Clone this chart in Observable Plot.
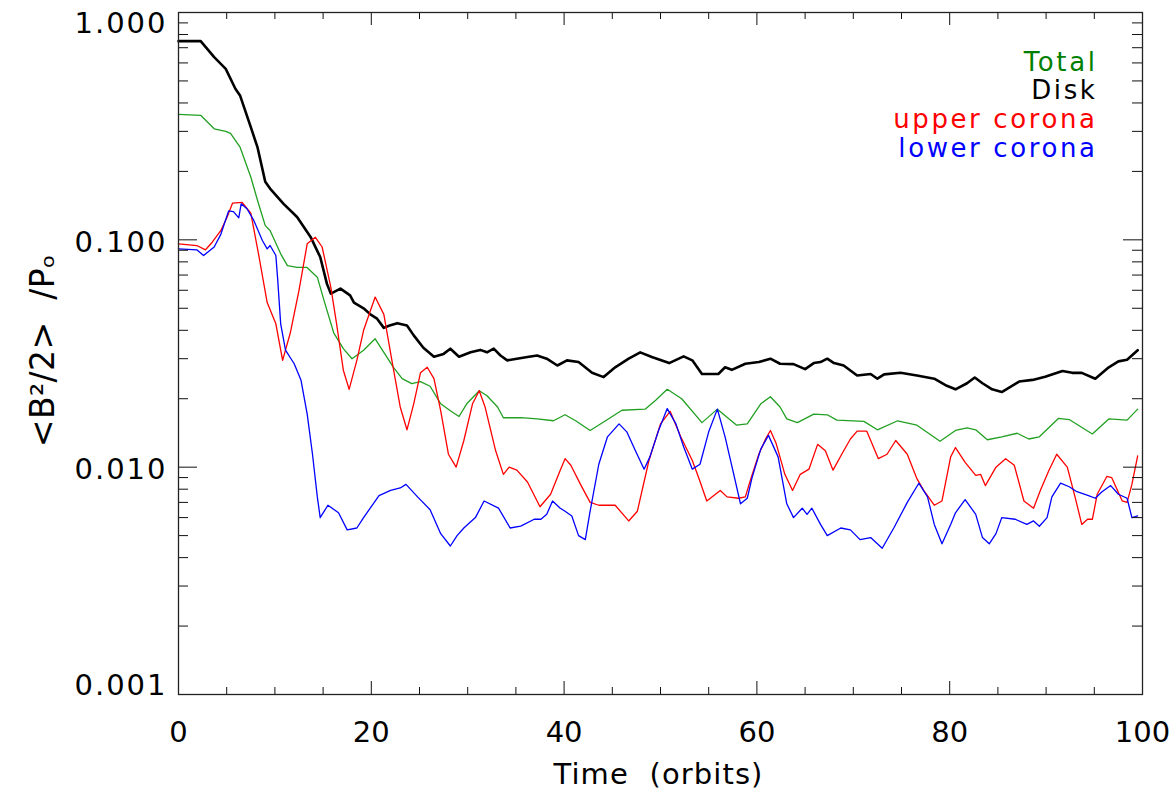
<!DOCTYPE html>
<html><head><meta charset="utf-8">
<script src="https://cdn.jsdelivr.net/npm/d3@7"></script>
<script src="https://cdn.jsdelivr.net/npm/@observablehq/plot@0.6"></script>
<style>
html,body{margin:0;padding:0;background:#fff;}
svg{display:block}
</style>
</head><body><div id="chart"></div><script>
// ---- data: [time (orbits), <B^2/2>/P0] ----
const total = [[0,0.356],[2.3,0.353],[3.7,0.308],[4.9,0.300],[5.4,0.294],[6.4,0.255],[7.5,0.189],[8.2,0.149],[9.0,0.1155],[9.5,0.110],[10.6,0.0868],[11.3,0.077],[12.3,0.0757],[13.3,0.0757],[14.4,0.0685],[15.1,0.054],[16.1,0.039],[17.1,0.0332],[18.0,0.030],[19.2,0.0327],[20.4,0.0367],[21.3,0.032],[22.3,0.0275],[23.2,0.0245],[24.2,0.0233],[25.1,0.0238],[26.1,0.0227],[27.2,0.019],[28.2,0.0177],[29.1,0.0167],[29.9,0.019],[31.2,0.0217],[32.0,0.0206],[33.1,0.0184],[33.7,0.0165],[35.5,0.0165],[37.2,0.0163],[38.9,0.016],[40.1,0.017],[41.2,0.016],[42.7,0.0145],[44.3,0.016],[46.0,0.0178],[48.4,0.018],[49.5,0.0197],[50.7,0.022],[52.2,0.020],[54.3,0.0157],[55.9,0.018],[57.9,0.0153],[59.0,0.0155],[60.4,0.019],[61.4,0.0204],[62.4,0.0184],[63.1,0.0163],[64.2,0.0157],[65.9,0.0171],[67.3,0.017],[68.3,0.0161],[71.1,0.0159],[72.5,0.0146],[74.6,0.016],[76.6,0.0153],[79.0,0.013],[80.6,0.0145],[81.8,0.0149],[82.7,0.0146],[83.9,0.0132],[85.4,0.0136],[87.0,0.0141],[88.2,0.0133],[89.3,0.0136],[91.3,0.0164],[92.4,0.0162],[94.8,0.014],[96.5,0.0163],[98.4,0.0161],[99.5,0.018]];

const disk = [[0,0.748],[2.3,0.748],[3.7,0.636],[4.9,0.565],[5.9,0.462],[6.4,0.430],[7.5,0.313],[8.2,0.255],[9.0,0.180],[9.5,0.168],[10.9,0.144],[12.3,0.126],[13.7,0.103],[14.7,0.084],[15.4,0.064],[15.8,0.058],[16.8,0.061],[17.8,0.057],[18.2,0.053],[19.2,0.050],[19.9,0.047],[20.6,0.045],[21.3,0.041],[21.9,0.042],[22.7,0.043],[23.7,0.042],[24.4,0.038],[25.4,0.0335],[26.5,0.0306],[27.5,0.0315],[28.2,0.0332],[29.1,0.0306],[30.3,0.032],[31.3,0.0328],[32.0,0.032],[32.7,0.0332],[33.4,0.031],[34.1,0.0295],[35.1,0.030],[36.2,0.0305],[37.2,0.031],[38.2,0.030],[39.3,0.028],[40.3,0.0295],[41.5,0.029],[42.9,0.026],[44.1,0.0249],[45.3,0.0275],[46.7,0.030],[47.9,0.032],[49.1,0.0305],[50.9,0.0287],[52.4,0.0307],[53.3,0.0295],[54.3,0.0257],[56.0,0.0257],[56.7,0.0275],[57.4,0.0268],[58.8,0.0285],[60.2,0.029],[61.4,0.030],[62.4,0.0285],[63.8,0.0284],[65.0,0.027],[65.9,0.0287],[66.6,0.029],[67.3,0.030],[68.0,0.0287],[69.0,0.028],[70.4,0.0253],[71.8,0.0257],[72.5,0.0245],[73.2,0.0256],[74.9,0.026],[76.6,0.0253],[78.4,0.0245],[79.7,0.0228],[80.6,0.022],[81.8,0.0234],[82.6,0.0248],[83.4,0.0234],[84.4,0.022],[85.4,0.0214],[87.2,0.0238],[88.6,0.0242],[89.9,0.025],[91.7,0.0265],[92.7,0.026],[93.7,0.026],[95.1,0.0245],[96.5,0.0275],[97.5,0.0292],[98.4,0.0297],[99.5,0.0327]];

const upperCorona = [[0,0.096],[1.9,0.0944],[2.8,0.0904],[3.5,0.0976],[4.4,0.110],[5.05,0.126],[5.6,0.145],[6.6,0.146],[7.5,0.131],[8.3,0.0868],[9.2,0.053],[10.1,0.0427],[10.8,0.0295],[11.6,0.039],[12.5,0.060],[13.35,0.096],[14.2,0.1026],[14.9,0.093],[15.8,0.062],[16.4,0.0427],[17.1,0.0267],[17.7,0.022],[18.5,0.0295],[19.2,0.040],[20.4,0.056],[21.3,0.047],[22.2,0.0285],[23.0,0.0184],[23.7,0.0146],[24.4,0.019],[25.1,0.026],[25.8,0.0275],[26.5,0.0245],[27.2,0.0177],[28.0,0.0114],[28.8,0.0100],[29.6,0.0131],[30.5,0.019],[31.2,0.0217],[31.8,0.0184],[32.9,0.0118],[33.7,0.0093],[34.3,0.0100],[35.1,0.0097],[36.2,0.0086],[37.5,0.0067],[38.6,0.0076],[39.6,0.0097],[40.1,0.0109],[40.7,0.0102],[41.7,0.0084],[42.7,0.0070],[43.6,0.0068],[45.3,0.0068],[46.7,0.0058],[47.6,0.0064],[48.8,0.0107],[50.0,0.0155],[51.0,0.0176],[52.1,0.0136],[53.3,0.0107],[54.0,0.0089],[54.8,0.0071],[56.2,0.0079],[56.9,0.0074],[58.1,0.0073],[58.8,0.0074],[59.3,0.0087],[60.2,0.0114],[60.9,0.0133],[61.4,0.0145],[62.0,0.0127],[62.9,0.0093],[63.7,0.0079],[64.5,0.0093],[65.4,0.0098],[66.3,0.0126],[67.1,0.0118],[67.9,0.0097],[68.8,0.0114],[69.7,0.0133],[70.4,0.0144],[71.4,0.0144],[72.6,0.0109],[73.5,0.0114],[74.4,0.0131],[75.6,0.0114],[76.6,0.0089],[77.3,0.0079],[78.4,0.0068],[79.2,0.0071],[80.1,0.0111],[80.6,0.0122],[81.6,0.0105],[82.7,0.0092],[83.2,0.0093],[83.7,0.0083],[84.8,0.0100],[85.8,0.0109],[86.7,0.0102],[87.7,0.0071],[88.7,0.0066],[89.4,0.0079],[90.3,0.0097],[91.1,0.0114],[92.2,0.0100],[93.0,0.0074],[93.7,0.0056],[94.3,0.0059],[94.8,0.0059],[95.3,0.0076],[96.3,0.0091],[96.8,0.0090],[97.9,0.0071],[98.4,0.0070],[98.9,0.0084],[99.5,0.0112]];

const lowerCorona = [[0,0.0913],[1.9,0.0904],[2.6,0.0853],[3.7,0.093],[4.4,0.106],[5.2,0.134],[5.7,0.133],[6.25,0.125],[6.5,0.144],[7.1,0.137],[7.8,0.122],[8.7,0.0993],[9.2,0.0913],[9.5,0.0944],[10.1,0.0853],[10.3,0.066],[10.6,0.0427],[11.1,0.0327],[12.0,0.0285],[12.7,0.0242],[13.35,0.0171],[13.9,0.0114],[14.4,0.0074],[14.7,0.0060],[15.5,0.0068],[16.6,0.0063],[17.5,0.0053],[18.5,0.0054],[19.2,0.0060],[20.8,0.0075],[22.0,0.0079],[23.0,0.0081],[23.6,0.0084],[24.8,0.0074],[26.1,0.0065],[27.2,0.0051],[28.2,0.0045],[28.9,0.0050],[29.6,0.0054],[30.8,0.0060],[31.7,0.0071],[33.2,0.0066],[34.4,0.0054],[35.5,0.0055],[36.9,0.0059],[37.6,0.0059],[38.2,0.0062],[38.8,0.0071],[39.6,0.0066],[40.1,0.0064],[40.8,0.0061],[41.5,0.0050],[42.2,0.0048],[42.7,0.0064],[43.6,0.0103],[44.5,0.0136],[45.7,0.0155],[46.5,0.0143],[47.4,0.0118],[48.3,0.0098],[48.9,0.0111],[49.8,0.0145],[50.7,0.0181],[51.6,0.0155],[52.4,0.0123],[53.3,0.0098],[54.1,0.0103],[55.0,0.0143],[55.9,0.018],[56.7,0.0136],[57.6,0.0093],[58.3,0.0069],[59.0,0.0073],[59.5,0.0090],[60.4,0.0120],[61.2,0.0138],[62.2,0.0111],[63.1,0.0069],[63.8,0.0060],[64.7,0.0066],[65.2,0.0062],[65.7,0.0066],[66.6,0.0056],[67.3,0.0050],[68.7,0.0054],[69.7,0.0053],[70.7,0.0048],[71.8,0.0049],[73.0,0.0044],[74.2,0.0054],[75.6,0.0070],[76.8,0.0085],[77.7,0.0074],[78.4,0.0056],[79.2,0.0046],[80.1,0.0056],[80.6,0.0063],[81.6,0.0072],[82.7,0.0062],[83.4,0.0049],[84.1,0.0046],[84.8,0.0051],[85.4,0.0060],[86.8,0.0059],[88.0,0.0056],[88.7,0.0058],[89.3,0.0055],[90.1,0.0060],[90.6,0.0074],[91.5,0.0085],[92.4,0.0082],[93.2,0.0078],[94.4,0.0075],[95.1,0.0073],[95.8,0.0078],[96.7,0.0083],[97.5,0.0076],[98.4,0.0073],[98.9,0.0060],[99.5,0.0061]];

const seriesNames = ["Total", "Disk", "upper corona", "lower corona"];
const seriesData = [total, disk, upperCorona, lowerCorona];
const lineColors = ["#22a022", "#000000", "#ff0000", "#0000ff"];
const legendColors = ["#007f00", "#000000", "#ff0000", "#0000ff"];
const lineWidths = [1.3, 2.6, 1.3, 1.3];

const xMajor = [0, 20, 40, 60, 80, 100];
const xMinor = [5, 10, 15, 25, 30, 35, 45, 50, 55, 65, 70, 75, 85, 90, 95];
const yMajor = [0.001, 0.01, 0.1, 1];
const yTickLabels = ["0.001", "0.010", "0.100", "1.000"];
const yMinorMult = [2, 3, 4, 5, 6, 7, 8, 9];
const xTitle = "Time  (orbits)";
const yTitle = "<B²/2>  /Pₒ";

// ---- layout ----
const W = 1176, H = 793, mL = 178, mR = 34, mT = 12, mB = 99;
const fw = W - mL - mR, fh = H - mT - mB;
const yMinor = yMajor.slice(0, 3).flatMap(d => yMinorMult.map(m => d * m));

const rows = seriesData.map((arr, i) => arr.map(([t, v]) => ({t, v, s: seriesNames[i]})));
const lineMarks = rows.map((r, i) => Plot.line(r, {x: "t", y: "v", stroke: lineColors[i], strokeWidth: lineWidths[i], strokeLinejoin: "round"}));

const tickStroke = "#111";
const tickMarks = [
  Plot.tickX(xMajor, {x: d => d, insetTop: fh - 13, stroke: tickStroke, strokeWidth: 1}),
  Plot.tickX(xMajor, {x: d => d, insetBottom: fh - 13, stroke: tickStroke, strokeWidth: 1}),
  Plot.tickX(xMinor, {x: d => d, insetTop: fh - 7, stroke: tickStroke, strokeWidth: 1}),
  Plot.tickX(xMinor, {x: d => d, insetBottom: fh - 7, stroke: tickStroke, strokeWidth: 1}),
  Plot.tickY(yMajor, {y: d => d, insetRight: fw - 19, stroke: tickStroke, strokeWidth: 1}),
  Plot.tickY(yMajor, {y: d => d, insetLeft: fw - 19, stroke: tickStroke, strokeWidth: 1}),
  Plot.tickY(yMinor, {y: d => d, insetRight: fw - 10, stroke: tickStroke, strokeWidth: 1}),
  Plot.tickY(yMinor, {y: d => d, insetLeft: fw - 10, stroke: tickStroke, strokeWidth: 1})
];

const fontSize = 29;
const yLabelOpts = (dy) => ({y: i => yMajor[i], text: i => yTickLabels[i], frameAnchor: "left", textAnchor: "end", lineAnchor: "middle", dx: -11, dy, fontSize});
const textMarks = [
  Plot.text([1, 2], yLabelOpts(3)),
  Plot.text([3], yLabelOpts(11)),
  Plot.text([0], yLabelOpts(-9)),
  Plot.text(xMajor, {x: d => d, text: d => String(d), frameAnchor: "bottom", textAnchor: "middle", lineAnchor: "middle", dy: 38.5, fontSize}),
  Plot.text([xTitle], {text: d => d, frameAnchor: "bottom", textAnchor: "middle", lineAnchor: "bottom", dy: 89, dx: -2, fontSize: 29}),
  Plot.text([yTitle], {text: d => d, frameAnchor: "left", textAnchor: "middle", lineAnchor: "bottom", rotate: -90, dx: -125, dy: -3, fontSize: 33}),
  ...seriesNames.map((name, i) => Plot.text([name], {text: d => d, frameAnchor: "top-right", textAnchor: "end", lineAnchor: "bottom", dx: -45, dy: 58 + i * 28.9, fill: legendColors[i], fontSize: 26}))
];

const chart = Plot.plot({
  width: W, height: H,
  marginLeft: mL, marginRight: mR, marginTop: mT, marginBottom: mB,
  x: {domain: [0, 100], axis: null},
  y: {type: "log", domain: [0.001, 1], axis: null},
  style: {fontFamily: "'DejaVu Sans', sans-serif", background: "#fff", color: "#000"},
  marks: [
    ...lineMarks,
    ...tickMarks,
    Plot.frame({stroke: "#222", strokeWidth: 1.3}),
    ...textMarks
  ]
});
document.getElementById("chart").appendChild(chart);

// letter spacing to mimic the wide IDL vector font
const spacing = new Map([
  ...seriesNames.map(n => [n, "2.6px"]),
  ...yTickLabels.map(l => [l, "2px"]),
  [xTitle, "1.1px"],
  [yTitle, "0.4px"]
]);
d3.select(chart).selectAll("text").each(function () {
  const s = spacing.get(this.textContent);
  if (s) this.style.letterSpacing = s;
});
</script></body></html>
